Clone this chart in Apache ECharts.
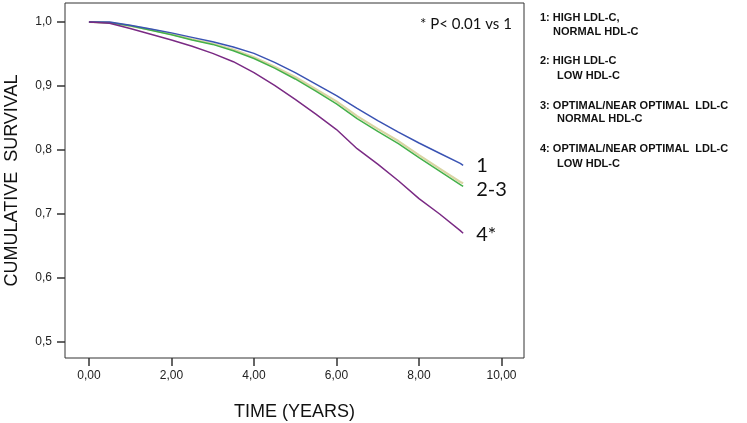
<!DOCTYPE html>
<html>
<head>
<meta charset="utf-8">
<script src="https://cdn.jsdelivr.net/npm/echarts@6/dist/echarts.min.js"></script>
<style>html,body{margin:0;padding:0;background:#fff;}#c{width:747px;height:423px;}</style>
</head>
<body>
<div id="c"></div>
<script>
var times   = [0, 0.5, 1.0, 1.5, 2.0, 2.5, 3.0, 3.5, 4.0, 4.5, 5.0, 5.5, 6.0, 6.5, 7.0, 7.5, 8.0, 8.5, 9.0, 9.07];
var group1  = [1.0, 1.0, 0.995, 0.989, 0.983, 0.976, 0.969, 0.961, 0.951, 0.937, 0.921, 0.903, 0.885, 0.865, 0.846, 0.828, 0.811, 0.795, 0.779, 0.776];
var group2  = [1.0, 0.999, 0.994, 0.987, 0.980, 0.972, 0.965, 0.955, 0.943, 0.928, 0.911, 0.892, 0.872, 0.849, 0.829, 0.810, 0.788, 0.767, 0.746, 0.743];
var group3  = [1.0, 0.999, 0.994, 0.988, 0.981, 0.973, 0.966, 0.957, 0.945, 0.930, 0.914, 0.895, 0.876, 0.853, 0.833, 0.814, 0.792, 0.771, 0.750, 0.748];
var group4  = [1.0, 0.998, 0.990, 0.981, 0.972, 0.962, 0.951, 0.938, 0.921, 0.901, 0.879, 0.856, 0.832, 0.802, 0.778, 0.752, 0.724, 0.700, 0.674, 0.670];
var xTicks  = [0, 2, 4, 6, 8, 10];
var yTicks  = [0.5, 0.6, 0.7, 0.8, 0.9, 1.0];
var legendLines = [
  ["1: HIGH LDL-C,", "NORMAL HDL-C"],
  ["2: HIGH LDL-C", "LOW HDL-C"],
  ["3: OPTIMAL/NEAR OPTIMAL  LDL-C", "NORMAL HDL-C"],
  ["4: OPTIMAL/NEAR OPTIMAL  LDL-C", "LOW HDL-C"]
];
var endLabels = ["1", "2-3", "", "4*"];
var colors = ["#3a53b3", "#44b04a", "#d9d5a3", "#7a2a84"];

function pairs(ys){ return times.map(function(t,i){ return [t, ys[i]]; }); }

var chart = echarts.init(document.getElementById('c'), null, {renderer:'canvas'});
var groups = [group1, group2, group3, group4];
var order = [2, 1, 0, 3];
var series = order.map(function(k){
  return {
    type:'line', data: pairs(groups[k]), showSymbol:false, symbol:'none',
    z: k===2 ? 1 : 2,
    lineStyle:{color:colors[k], width: k===2 ? 2.2 : 1.5},
    itemStyle:{color:colors[k]},
    silent:true, animation:false,
    endLabel: endLabels[k] ? {show:true, formatter:endLabels[k], distance:13,
      fontFamily:'Lato', fontSize:20, color:'#111', offset:[0, k===1 ? 3 : (k===3 ? 1 : 0)]} : {show:false}
  };
});

var legendGraphics = [];
var lineYs = [[19,33],[62,77],[107,120],[150,165]];
var indents = [553,557,557,557];
legendLines.forEach(function(l,i){
  legendGraphics.push({type:'text', left:540, top:lineYs[i][0]-7, style:{text:l[0], font:'bold 11px "Liberation Sans"', fill:'#111'}});
  legendGraphics.push({type:'text', left:indents[i], top:lineYs[i][1]-7, style:{text:l[1], font:'bold 11px "Liberation Sans"', fill:'#111'}});
});
legendGraphics.push({type:'text', left:420, top:17, style:{text:'* P< 0.01 vs 1', font:'15px Lato', fill:'#111'}});

chart.setOption({
  animation:false,
  backgroundColor:'#fff',
  grid:{left:65, right:223, top:3, bottom:65, show:true, borderColor:'#333', borderWidth:1, containLabel:false, outerBoundsMode:'none'},
  xAxis:{
    type:'value', min:-0.58, max:10.545,
    name:'TIME (YEARS)', nameLocation:'middle', nameGap:45,
    nameTextStyle:{fontFamily:'Liberation Sans', fontSize:18, color:'#111'},
    axisLine:{show:false, onZero:false},
    axisTick:{show:true, length:8, inside:false, customValues:xTicks, lineStyle:{color:'#333', width:1.5}},
    axisLabel:{customValues:xTicks, margin:12, fontFamily:'Liberation Sans', fontSize:12, color:'#222',
      formatter:function(v){ return v.toFixed(2).replace('.', ','); }},
    splitLine:{show:false}
  },
  yAxis:{
    type:'value', min:0.475, max:1.0297,
    name:'CUMULATIVE  SURVIVAL', nameLocation:'middle', nameGap:44, nameRotate:90,
    nameTextStyle:{fontFamily:'Liberation Sans', fontSize:18, color:'#111'},
    axisLine:{show:false, onZero:false},
    axisTick:{show:true, length:8, customValues:yTicks, lineStyle:{color:'#333', width:1.5}},
    axisLabel:{customValues:yTicks, margin:13, fontFamily:'Liberation Sans', fontSize:12, color:'#222',
      formatter:function(v){ return v.toFixed(1).replace('.', ','); }},
    splitLine:{show:false}
  },
  graphic: legendGraphics,
  series: series
});
</script>
</body>
</html>
